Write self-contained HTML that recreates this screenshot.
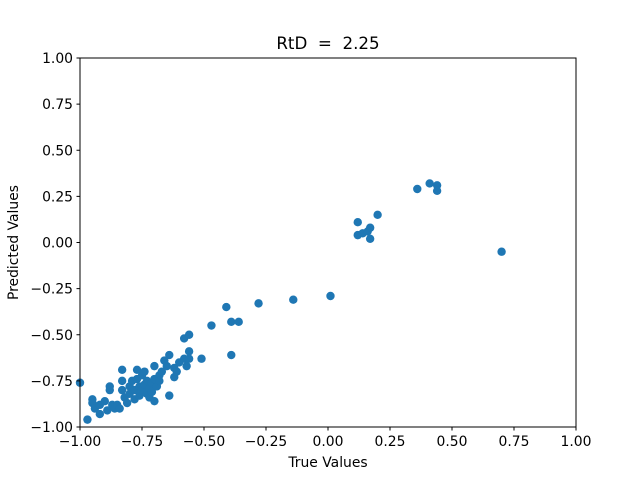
<!DOCTYPE html>
<html><head><meta charset="utf-8"><style>body{margin:0;background:#fff}svg{display:block;font-family:"DejaVu Sans","Liberation Sans",sans-serif}</style></head>
<body>
<svg id="chart" width="640" height="480">
<rect width="640" height="480" fill="#fff"/>
<text x="328" y="49" font-size="16.7" text-anchor="middle" xml:space="preserve">RtD  =  2.25</text>
<g id="marks"></g>
<rect x="80" y="58" width="496" height="369" fill="none" stroke="#000" stroke-width="1"/>
<g id="xticks"></g><g id="yticks"></g>
<text x="328" y="467" font-size="13.9" text-anchor="middle">True Values</text>
<text transform="translate(18,242.5) rotate(-90)" font-size="13.9" text-anchor="middle">Predicted Values</text>
</svg>
<script>
const trueVals=[-1.00,-0.97,-0.95,-0.95,-0.94,-0.92,-0.92,-0.90,-0.89,-0.88,-0.88,-0.87,-0.86,-0.85,-0.84,-0.83,-0.83,-0.83,-0.82,-0.81,-0.80,-0.80,-0.79,-0.78,-0.78,-0.77,-0.77,-0.76,-0.76,-0.75,-0.75,-0.74,-0.74,-0.73,-0.73,-0.72,-0.72,-0.71,-0.71,-0.70,-0.70,-0.70,-0.69,-0.68,-0.68,-0.67,-0.66,-0.65,-0.64,-0.64,-0.62,-0.62,-0.61,-0.60,-0.58,-0.58,-0.57,-0.56,-0.56,-0.56,-0.51,-0.47,-0.41,-0.39,-0.39,-0.36,-0.28,-0.14,0.01,0.12,0.12,0.14,0.16,0.17,0.17,0.20,0.36,0.41,0.44,0.44,0.70];
const predVals=[-0.76,-0.96,-0.85,-0.87,-0.90,-0.93,-0.88,-0.86,-0.91,-0.78,-0.80,-0.88,-0.90,-0.88,-0.90,-0.69,-0.75,-0.80,-0.84,-0.87,-0.78,-0.82,-0.75,-0.85,-0.80,-0.69,-0.74,-0.78,-0.83,-0.72,-0.80,-0.70,-0.77,-0.82,-0.75,-0.79,-0.84,-0.76,-0.81,-0.86,-0.67,-0.74,-0.78,-0.72,-0.75,-0.70,-0.64,-0.67,-0.61,-0.83,-0.68,-0.73,-0.70,-0.65,-0.52,-0.63,-0.67,-0.50,-0.59,-0.63,-0.63,-0.45,-0.35,-0.43,-0.61,-0.43,-0.33,-0.31,-0.29,0.11,0.04,0.05,0.06,0.08,0.02,0.15,0.29,0.32,0.31,0.28,-0.05];
const xTicks=["−1.00","−0.75","−0.50","−0.25","0.00","0.25","0.50","0.75","1.00"];
const yTicks=["−1.00","−0.75","−0.50","−0.25","0.00","0.25","0.50","0.75","1.00"];
const NS="http://www.w3.org/2000/svg";
const X=v=>80+(v+1)/2*496, Y=v=>427-(v+1)/2*369;
const num=s=>parseFloat(s.replace("−","-"));
const mk=document.getElementById("marks");
trueVals.forEach((t,i)=>{const c=document.createElementNS(NS,"circle");
c.setAttribute("cx",X(t));c.setAttribute("cy",Y(predVals[i]));c.setAttribute("r",4.2);c.setAttribute("fill","#1f77b4");


mk.appendChild(c);});
const xg=document.getElementById("xticks");
xTicks.forEach(s=>{const x=X(num(s));
const l=document.createElementNS(NS,"line");l.setAttribute("x1",x);l.setAttribute("x2",x);l.setAttribute("y1",427);l.setAttribute("y2",430.5);l.setAttribute("stroke","#000");


xg.appendChild(l);
const t=document.createElementNS(NS,"text");t.setAttribute("x",x);t.setAttribute("y",446);t.setAttribute("font-size","13.9");t.setAttribute("text-anchor","middle");t.textContent=s;


xg.appendChild(t);});
const yg=document.getElementById("yticks");
yTicks.forEach(s=>{const y=Y(num(s));
const l=document.createElementNS(NS,"line");l.setAttribute("x1",76.5);l.setAttribute("x2",80);l.setAttribute("y1",y);l.setAttribute("y2",y);l.setAttribute("stroke","#000");


yg.appendChild(l);
const t=document.createElementNS(NS,"text");t.setAttribute("x",73);t.setAttribute("y",y+5);t.setAttribute("font-size","13.9");t.setAttribute("text-anchor","end");t.textContent=s;


yg.appendChild(t);});
</script>
</body></html>
